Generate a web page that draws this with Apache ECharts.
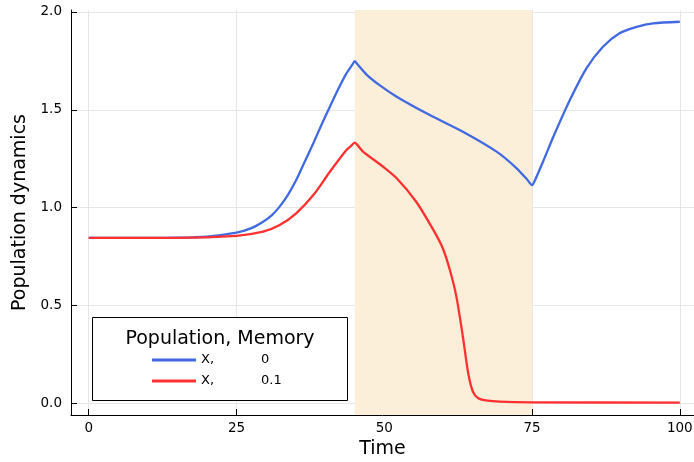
<!DOCTYPE html>
<html>
<head>
<meta charset="utf-8">
<script src="https://cdn.jsdelivr.net/npm/echarts@6/dist/echarts.min.js"></script>
<style>html,body{margin:0;padding:0;background:#fff}#c{width:694px;height:462px}</style>
</head>
<body>
<div id="c"></div>
<script>
// ---- data ----
const seriesNames = ['X, 0', 'X, 0.1'];
const blueTime  = [0, 10, 15, 20, 25, 27.5, 29.5, 31, 32.3, 33.7, 35.1, 36.5, 38, 39.4, 40.8, 42.2, 43.6, 44.6, 45, 45.4, 47, 49.2, 52.1, 57.7, 63.3, 69, 72.4, 74.2, 75, 75.5, 77, 78.6, 81.4, 84.2, 87, 89.8, 92.7, 95.5, 100];
const blueValue = [0.845, 0.845, 0.846, 0.852, 0.872, 0.895, 0.928, 0.962, 1.005, 1.065, 1.141, 1.232, 1.329, 1.425, 1.516, 1.605, 1.686, 1.731, 1.749, 1.735, 1.68, 1.626, 1.567, 1.473, 1.388, 1.286, 1.201, 1.142, 1.115, 1.140, 1.245, 1.362, 1.55, 1.712, 1.822, 1.891, 1.924, 1.942, 1.95];
const redTime   = [0, 15, 25, 29.5, 32.3, 35.1, 38, 40.8, 43.6, 44.6, 45, 45.4, 46.4, 49.8, 52.1, 55.4, 58.3, 59.9, 61.1, 62.2, 63.3, 64.2, 65.0, 65.9, 67.5, 69.5, 75, 100];
const redValue  = [0.845, 0.845, 0.856, 0.877, 0.911, 0.971, 1.064, 1.183, 1.294, 1.322, 1.332, 1.322, 1.286, 1.209, 1.150, 1.030, 0.886, 0.792, 0.681, 0.545, 0.340, 0.153, 0.059, 0.026, 0.013, 0.008, 0.005, 0.003];
const shadeRange = [45, 75];
const xTicks = [0, 25, 50, 75, 100];
const yTicks = [0, 0.5, 1.0, 1.5, 2.0];
const legendTitle = 'Population, Memory';
const xName = 'Time';
const yName = 'Population dynamics';

const pair = (t, v) => t.map((x, i) => [x, v[i]]);
const FONT = 'DejaVu Sans';

const chart = echarts.init(document.getElementById('c'), null, {renderer: 'canvas'});
chart.setOption({
  animation: false,
  backgroundColor: '#fff',
  grid: {left: 71, right: 0, top: 10, bottom: 47, containLabel: false, outerBoundsMode: 'none'},
  xAxis: {
    type: 'value', min: -3, max: 102.4,
    name: xName, nameLocation: 'middle', nameGap: 25,
    nameTextStyle: {fontFamily: FONT, fontSize: 19, color: '#000'},
    axisLine: {show: true, onZero: false, lineStyle: {color: '#000', width: 1}},
    axisTick: {show: true, inside: true, length: 6, customValues: xTicks, lineStyle: {color: '#000'}},
    axisLabel: {customValues: xTicks, margin: 6, fontFamily: FONT, fontSize: 13.5, color: '#000'},
    splitLine: {show: true, lineStyle: {color: '#e6e6e6', width: 1}}
  },
  yAxis: {
    type: 'value', min: -0.06, max: 2.01,
    name: yName, nameLocation: 'middle', nameGap: 41, nameRotate: 90,
    nameTextStyle: {fontFamily: FONT, fontSize: 19, color: '#000'},
    axisLine: {show: true, onZero: false, lineStyle: {color: '#000', width: 1}},
    axisTick: {show: true, inside: true, length: 6, customValues: yTicks, lineStyle: {color: '#000'}},
    axisLabel: {customValues: yTicks, margin: 9, fontFamily: FONT, fontSize: 13.5, color: '#000',
      formatter: v => v.toFixed(1)},
    splitLine: {show: true, lineStyle: {color: '#e6e6e6', width: 1}}
  },
  legend: {
    show: true, orient: 'vertical', left: 152, top: 353, z: 10, padding: 0,
    icon: 'rect', itemWidth: 44, itemHeight: 3, itemGap: 7,
    data: seriesNames,
    textStyle: {fontFamily: FONT, fontSize: 13, color: '#000', lineHeight: 14,
      rich: {a: {width: 60, fontFamily: FONT, fontSize: 13}, b: {fontFamily: FONT, fontSize: 13}}},
    formatter: name => {
      const parts = name.split(', ');
      return '{a|' + parts[0] + ',}{b|' + parts[1] + '}';
    }
  },
  graphic: [
    {type: 'rect', z: 3, shape: {x: 92.5, y: 317.5, width: 255, height: 83},
     style: {fill: '#fff', stroke: '#000', lineWidth: 1}},
    {type: 'text', z: 4, x: 220, y: 339,
     style: {text: legendTitle, font: '19px "DejaVu Sans"', fill: '#000', align: 'center', verticalAlign: 'middle'}}
  ],
  series: [
    {
      name: seriesNames[0], type: 'line', data: pair(blueTime, blueValue),
      showSymbol: false, smooth: 0.25, color: '#4169E1',
      lineStyle: {width: 2.3, color: '#4169E1'},
      markArea: {silent: true, itemStyle: {color: '#FBEFD9'},
        data: [[{xAxis: shadeRange[0]}, {xAxis: shadeRange[1]}]]}
    },
    {
      name: seriesNames[1], type: 'line', data: pair(redTime, redValue),
      showSymbol: false, smooth: 0.25, color: '#FF3030',
      lineStyle: {width: 2.3, color: '#FF3030'}
    }
  ]
});
</script>
</body>
</html>
